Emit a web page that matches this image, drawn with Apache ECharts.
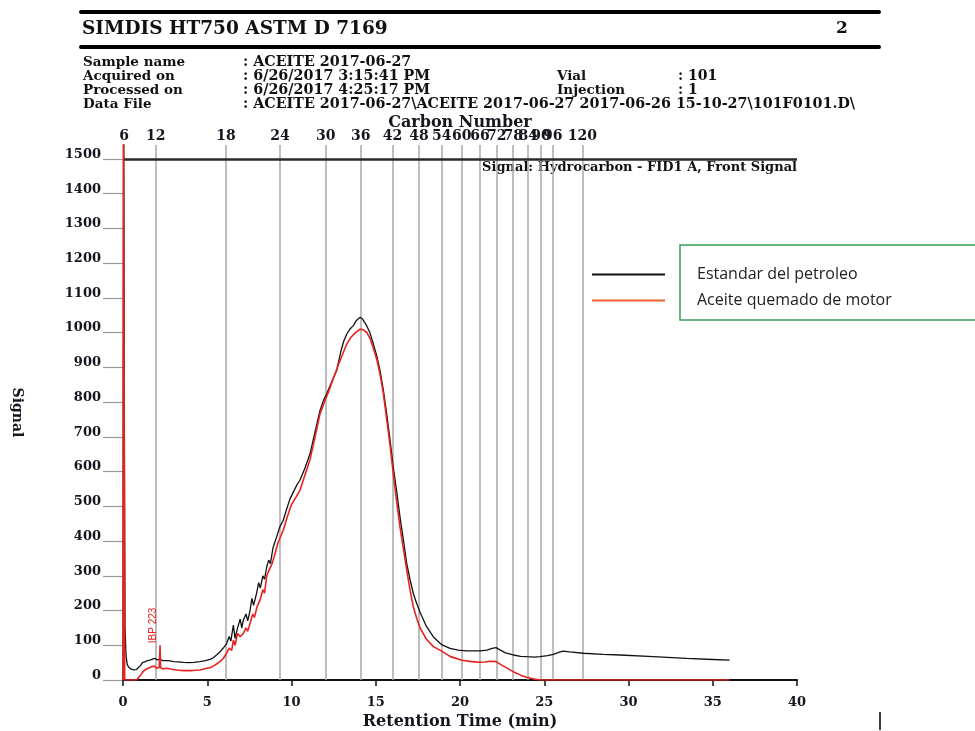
<!DOCTYPE html>
<html>
<head>
<meta charset="utf-8">
<script src="https://cdn.jsdelivr.net/npm/echarts@6/dist/echarts.min.js"></script>
<style>html,body{margin:0;padding:0;background:#fff;}#c{width:975px;height:731px;}</style>
</head>
<body>
<div id="c"></div>
<script>
// ---- Data ----
const yTicks = [0,100,200,300,400,500,600,700,800,900,1000,1100,1200,1300,1400,1500];
const carbonNumbers = ['6','12','18','24','30','36','42','48','54','60','66','72','78','84','90','96','120'];
const carbonTimes = [0.06,1.94,6.11,9.32,12.03,14.11,15.99,17.57,18.91,20.10,21.19,22.18,23.16,24.05,24.81,25.50,27.26];

const blackT = [0.00,0.03,0.08,0.12,0.18,0.25,0.32,0.45,0.61,0.80,0.91,1.05,1.15,1.30,1.45,1.60,1.75,1.90,2.05,2.20,2.35,2.59,2.80,3.00,3.30,3.58,3.90,4.20,4.57,4.90,5.20,5.36,5.55,5.76,5.95,6.15,6.30,6.40,6.55,6.65,6.80,6.95,7.05,7.14,7.30,7.40,7.54,7.65,7.75,7.93,8.05,8.15,8.30,8.40,8.53,8.65,8.75,8.90,9.00,9.12,9.30,9.51,9.70,9.90,10.10,10.30,10.50,10.80,11.10,11.40,11.69,11.90,12.09,12.40,12.68,12.95,13.10,13.28,13.50,13.67,13.85,14.07,14.20,14.30,14.46,14.65,14.86,15.05,15.25,15.45,15.65,15.85,16.04,16.25,16.44,16.65,16.84,17.03,17.23,17.43,17.63,18.00,18.42,18.90,19.41,19.90,20.40,21.19,21.60,21.90,22.14,22.40,22.70,23.16,23.60,23.96,24.40,24.75,25.20,25.54,25.90,26.13,26.50,27.32,28.50,29.50,31.47,33.45,35.00,36.00];
const blackV = [0,1600,1600,150,70,45,38,32,29,30,31,42,50,52,56,57,60,62,58,60,56,56,55,53,52,51,50,51,53,56,60,64,72,81,92,105,125,112,158,120,150,175,150,172,190,170,200,235,215,250,280,265,300,290,326,345,335,380,395,412,440,460,490,520,540,560,575,610,651,715,776,805,824,860,891,950,975,996,1012,1020,1035,1044,1040,1035,1020,1000,967,935,891,835,766,690,613,540,469,400,335,290,249,220,195,155,124,102,91,86,84,84,86,91,93,86,78,72,68,67,66,67,70,74,80,83,81,77,74,72,67,62,59,57];

const redT = [0.00,0.03,0.07,0.10,0.80,1.00,1.15,1.30,1.50,1.70,1.85,2.00,2.15,2.20,2.23,2.35,2.59,2.90,3.20,3.58,4.00,4.30,4.57,4.90,5.20,5.36,5.55,5.76,5.95,6.15,6.30,6.45,6.55,6.65,6.80,6.95,7.14,7.30,7.40,7.54,7.70,7.80,7.95,8.13,8.30,8.40,8.53,8.70,8.85,9.00,9.20,9.51,9.75,10.00,10.25,10.50,10.80,11.10,11.40,11.69,11.95,12.20,12.50,12.80,13.05,13.28,13.50,13.80,14.07,14.25,14.46,14.65,14.86,15.05,15.25,15.45,15.65,15.85,16.04,16.25,16.44,16.65,16.84,17.03,17.23,17.43,17.63,18.00,18.42,18.81,19.41,20.10,20.70,21.19,21.50,21.78,22.14,22.50,23.16,23.60,23.96,24.40,24.75,36.00];
const redV = [0,1600,1600,0,0,11,22,29,34,38,40,34,36,100,36,32,34,31,29,27,27,28,29,33,36,40,46,53,62,77,92,85,115,100,134,125,134,150,140,163,190,180,210,230,260,250,300,320,335,360,395,431,470,505,525,546,590,635,700,766,800,830,870,910,940,967,985,1000,1010,1008,1001,985,955,925,881,825,750,675,594,510,440,375,316,260,210,178,150,118,96,86,68,57,53,51,52,54,53,42,24,14,8,3,0,0];

const seriesNames = ['Estandar del petroleo','Aceite quemado de motor'];
const ibpLabel = {t:1.81, v:106, text:'IBP 223'};

// ---- Chart ----
const serif = 'DejaVu Serif';
const txt = '#151520';
const chart = echarts.init(document.getElementById('c'), null, {renderer:'canvas'});
const carbonMap = {};
carbonTimes.forEach((t,i)=>{carbonMap[t.toFixed(3)] = carbonNumbers[i];});

function hdrText(x,y,text,size,align){
  return {type:'text', x:x, y:y, silent:true,
    style:{text:text, font:'bold '+size+'px "'+serif+'"', fill:'#111', textAlign:align||'left', textVerticalAlign:'middle'}};
}

const option = {
  animation:false,
  backgroundColor:'#fff',
  grid:{left:123, right:178, top:145, bottom:51, containLabel:false, outerBoundsMode:'none'},
  legend:{
    orient:'vertical', left:587, top:260, icon:'rect', itemWidth:73, itemHeight:2, itemGap:7,
    textStyle:{fontFamily:'Open Sans', fontSize:16, color:'#222', lineHeight:19, padding:[0,0,0,27]},
    data:[{name:seriesNames[0], itemStyle:{color:'#111'}}, {name:seriesNames[1], itemStyle:{color:'#f2602e'}}],
    selectedMode:false
  },
  xAxis:[{
    type:'value', min:0, max:40, interval:5, position:'bottom',
    axisLine:{show:true, lineStyle:{color:'#111', width:2}},
    axisTick:{show:true, length:6, lineStyle:{color:'#111', width:1.5}},
    axisLabel:{fontFamily:serif, fontWeight:'bold', fontSize:13, color:txt, margin:16},
    splitLine:{show:false},
    name:'Retention Time (min)', nameLocation:'middle', nameGap:34, nameMoveOverlap:false,
    nameTextStyle:{fontFamily:serif, fontWeight:'bold', fontSize:16, color:txt}
  },{
    type:'value', min:0, max:40, position:'top',
    axisLine:{show:false}, axisTick:{show:false}, splitLine:{show:false},
    axisLabel:{show:true, customValues:carbonTimes, fontFamily:serif, fontWeight:'bold', fontSize:14, color:txt, margin:2,
      formatter:function(v){ return carbonMap[Number(v).toFixed(3)] || ''; }},
    name:'Carbon Number', nameLocation:'middle', nameGap:14, nameMoveOverlap:false,
    nameTextStyle:{fontFamily:serif, fontWeight:'bold', fontSize:16, color:txt}
  }],
  yAxis:{
    type:'value', min:0, max:1540, interval:100,
    axisLine:{show:false},
    axisTick:{show:true, customValues:yTicks, length:20, lineStyle:{color:'#9a9a9a', width:1.2}},
    axisLabel:{customValues:yTicks, fontFamily:serif, fontWeight:'bold', fontSize:13, color:txt, margin:22,
      verticalAlign:'bottom', lineHeight:9,
      formatter:function(v){ return String(v); }},
    splitLine:{show:false},
    name:'Signal', nameLocation:'middle', nameGap:99, nameRotate:-90, nameMoveOverlap:false,
    nameTextStyle:{fontFamily:serif, fontWeight:'bold', fontSize:14, color:txt}
  },
  series:[{
    name:seriesNames[0], type:'line', xAxisIndex:0, yAxisIndex:0, z:3,
    showSymbol:false, symbol:'none', lineStyle:{color:'#111', width:1.3}, itemStyle:{color:'#111'},
    data:blackT.map((t,i)=>[t, blackV[i]]),
    markLine:{
      silent:true, symbol:'none', z:1, animation:false,
      label:{show:false},
      lineStyle:{color:'#a9a9a9', width:1.5, type:'solid'},
      data:carbonTimes.map(t=>({xAxis:t})).concat([{yAxis:1500, lineStyle:{color:'#2a2a2a', width:2.6, type:'solid'}}])
    }
  },{
    name:seriesNames[1], type:'line', xAxisIndex:0, yAxisIndex:0, z:4,
    showSymbol:false, symbol:'none', lineStyle:{color:'#e8231f', width:1.6}, itemStyle:{color:'#e8231f'},
    data:redT.map((t,i)=>[t, redV[i]]),
    markPoint:{
      silent:true, symbol:'circle', symbolSize:0, animation:false,
      label:{show:true, position:'inside', rotate:90, align:'left', verticalAlign:'middle',
        fontFamily:'Liberation Sans', fontSize:10, color:'#e8231f', formatter:function(p){return p.name;}},
      data:[{name:ibpLabel.text, coord:[ibpLabel.t, ibpLabel.v]}]
    }
  }],
  graphic:[
    {type:'line', silent:true, shape:{x1:81,y1:12,x2:879,y2:12}, style:{stroke:'#000', lineWidth:4, lineCap:'round'}},
    {type:'line', silent:true, shape:{x1:81,y1:47,x2:879,y2:47}, style:{stroke:'#000', lineWidth:4, lineCap:'round'}},
    hdrText(82,29,'SIMDIS HT750 ASTM D 7169',18.5),
    hdrText(836,29,'2',17),
    hdrText(83,62,'Sample name',13.5),
    hdrText(83,76,'Acquired on',13.5),
    hdrText(83,90,'Processed on',13.5),
    hdrText(83,104,'Data File',13.5),
    hdrText(243,62,': ACEITE 2017-06-27',14.3),
    hdrText(243,76,': 6/26/2017 3:15:41 PM',14.3),
    hdrText(243,90,': 6/26/2017 4:25:17 PM',14.3),
    hdrText(243,104,': ACEITE 2017-06-27\\ACEITE 2017-06-27 2017-06-26 15-10-27\\101F0101.D\\',14.3),
    hdrText(557,76,'Vial',13.5),
    hdrText(557,90,'Injection',13.5),
    hdrText(678,76,': 101',14),
    hdrText(678,90,': 1',14),
    {type:'text', silent:true, x:797, y:168, style:{text:'Signal: Hydrocarbon - FID1 A, Front Signal', font:'bold 13px "'+serif+'"', fill:'#111', textAlign:'right', textVerticalAlign:'middle'}},
    {type:'rect', silent:true, shape:{x:680,y:245,width:300,height:75}, style:{fill:'none', stroke:'#3a9e58', lineWidth:1.5}},
    {type:'line', silent:true, shape:{x1:880,y1:712,x2:880,y2:730}, style:{stroke:'#000', lineWidth:1.5}}
  ]
};
chart.setOption(option);
</script>
</body>
</html>
